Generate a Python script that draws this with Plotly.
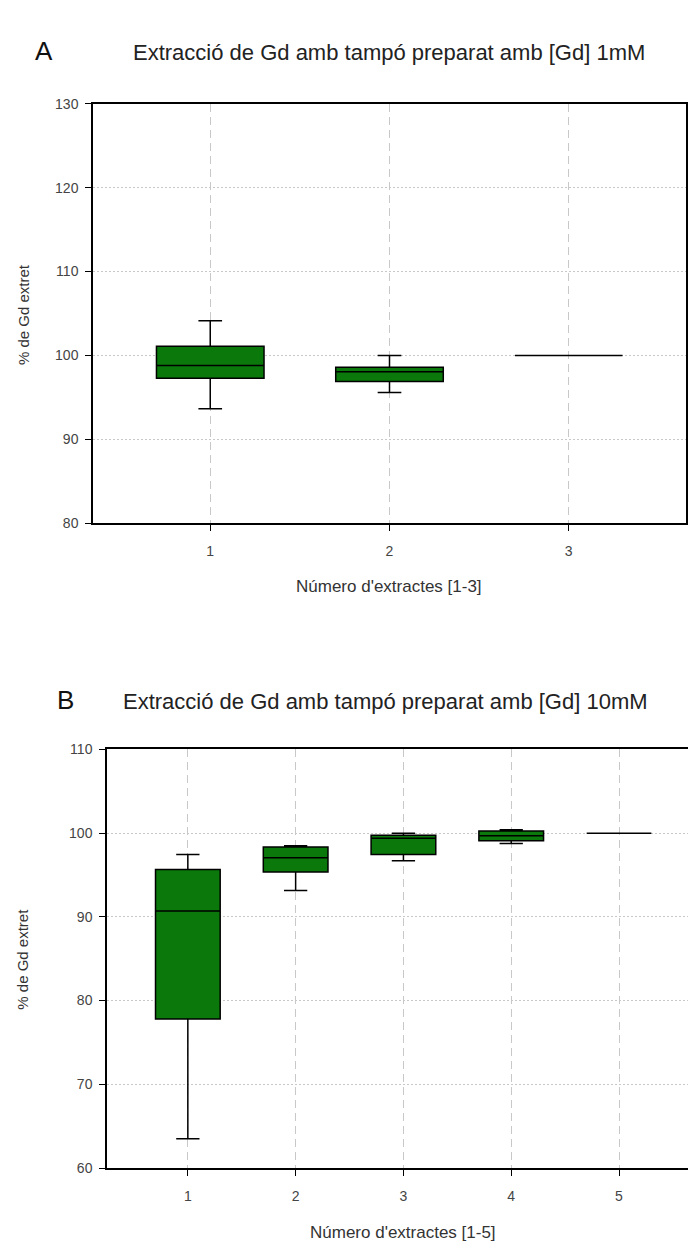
import plotly.graph_objects as go

# Panel A: extraction with buffer prepared at [Gd] 1 mM
a_extracts = [1, 2, 3]
a_low = [93.65, 95.6, 100.0]
a_q1 = [97.3, 96.9, 100.0]
a_median = [98.8, 98.05, 100.0]
a_q3 = [101.1, 98.6, 100.0]
a_high = [104.15, 100.0, 100.0]

# Panel B: extraction with buffer prepared at [Gd] 10 mM
b_extracts = [1, 2, 3, 4, 5]
b_low = [63.5, 93.15, 96.7, 98.75, 100.0]
b_q1 = [77.8, 95.35, 97.45, 99.1, 100.0]
b_median = [90.7, 97.05, 99.4, 99.7, 100.0]
b_q3 = [95.65, 98.35, 99.75, 100.25, 100.0]
b_high = [97.45, 98.5, 100.0, 100.4, 100.0]

a_yticks = [80, 90, 100, 110, 120, 130]
b_yticks = [60, 70, 80, 90, 100, 110]

W, H = 688, 1253
FONT = "Liberation Sans, Arial, sans-serif"
GREEN = "#0a780a"


def px(x):
    return x / W


def py(y):
    return 1 - y / H


fig = go.Figure()

for xs, lo, q1, med, q3, hi, ax, ww in [
    (a_extracts, a_low, a_q1, a_median, a_q3, a_high, ("x", "y"), 0.22),
    (b_extracts, b_low, b_q1, b_median, b_q3, b_high, ("x2", "y2"), 0.36),
]:
    for i, x in enumerate(xs):
        fig.add_trace(go.Box(
            x=[x], q1=[q1[i]], median=[med[i]], q3=[q3[i]],
            lowerfence=[lo[i]], upperfence=[hi[i]],
            width=0.6, whiskerwidth=ww,
            fillcolor=GREEN, line=dict(color="black", width=1.5),
            boxpoints=False, hoverinfo="skip", showlegend=False,
            xaxis=ax[0], yaxis=ax[1],
        ))

tickfont = dict(family=FONT, size=14, color="#444444")
xgrid = dict(showgrid=True, gridcolor="#c8c8c8", gridwidth=1, griddash="8px,5px")
ygrid = dict(showgrid=True, gridcolor="#c8c8c8", gridwidth=1, griddash="2px,2px")

fig.update_layout(
    width=W, height=H,
    margin=dict(l=0, r=0, t=0, b=0),
    paper_bgcolor="white", plot_bgcolor="white",
    showlegend=False,
    xaxis=dict(
        domain=[px(93), px(686)], range=[0.346, 3.654],
        tickvals=a_extracts, ticks="outside", ticklen=6, tickcolor="black",
        showline=True, linecolor="black", linewidth=1.5, mirror=True,
        zeroline=False, tickfont=tickfont, anchor="y", ticklabelstandoff=8, **xgrid,
    ),
    yaxis=dict(
        domain=[py(522), py(97)], range=[80, 130],
        tickvals=a_yticks, ticks="outside", ticklen=6, tickcolor="black",
        showline=True, linecolor="black", linewidth=1.5, mirror=True,
        zeroline=False, tickfont=tickfont, anchor="x", ticklabelstandoff=4, **ygrid,
    ),
    xaxis2=dict(
        domain=[px(107), 1.0], range=[0.25, 5.64],
        tickvals=b_extracts, ticks="outside", ticklen=6, tickcolor="black",
        showline=True, linecolor="black", linewidth=1.5, mirror=True,
        zeroline=False, tickfont=tickfont, anchor="y2", ticklabelstandoff=8, **xgrid,
    ),
    yaxis2=dict(
        domain=[py(1175), py(751)], range=[60, 110],
        tickvals=b_yticks, ticks="outside", ticklen=6, tickcolor="black",
        showline=True, linecolor="black", linewidth=1.5, mirror=False,
        zeroline=False, tickfont=tickfont, anchor="x2", ticklabelstandoff=4, **ygrid,
    ),
)

ann = []
# Panel letters and titles
ann.append(dict(text="A", x=px(44), y=py(44), font=dict(family=FONT, size=26, color="#111")))
ann.append(dict(text="Extracció de Gd amb tampó preparat amb [Gd] 1mM",
                x=px(389), y=py(45), font=dict(family=FONT, size=22, color="#222")))
ann.append(dict(text="B", x=px(65), y=py(701), font=dict(family=FONT, size=26, color="#111")))
ann.append(dict(text="Extracció de Gd amb tampó preparat amb [Gd] 10mM",
                x=px(385), y=py(702), font=dict(family=FONT, size=22, color="#222")))
# Axis titles
ann.append(dict(text="% de Gd extret", x=px(23), y=py(310), textangle=-90,
                font=dict(family=FONT, size=15, color="#333")))
ann.append(dict(text="Número d'extractes [1-3]", x=px(389), y=py(586),
                font=dict(family=FONT, size=17, color="#333")))
ann.append(dict(text="% de Gd extret", x=px(23), y=py(963), textangle=-90,
                font=dict(family=FONT, size=15, color="#333")))
ann.append(dict(text="Número d'extractes [1-5]", x=px(403), y=py(1240),
                font=dict(family=FONT, size=17, color="#333")))
for a in ann:
    a.update(xref="paper", yref="paper", showarrow=False, xanchor="center", yanchor="middle")
fig.update_layout(annotations=ann)

fig.write_html("out.html")
